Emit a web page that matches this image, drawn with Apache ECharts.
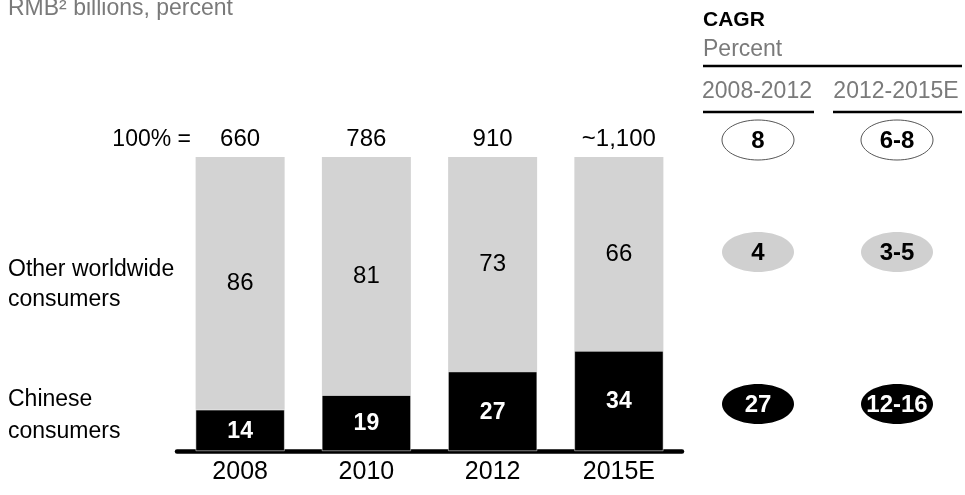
<!DOCTYPE html>
<html>
<head>
<meta charset="utf-8">
<script src="https://cdn.jsdelivr.net/npm/echarts@6/dist/echarts.min.js"></script>
<style>
  html, body { margin: 0; padding: 0; background: #fff; }
  #chart { width: 965px; height: 495px; }
</style>
</head>
<body>
<div id="chart"></div>
<script>
const years = ['2008', '2010', '2012', '2015E']
const chinese = [14, 19, 27, 34]
const others = [86, 81, 73, 66]
const totals = ['660', '786', '910', '~1,100']
const cagrPeriods = ['2008-2012', '2012-2015E']
const cagrTotal = ['8', '6-8']
const cagrOthers = ['4', '3-5']
const cagrChinese = ['27', '12-16']

const FONT = '"Liberation Sans", Arial, sans-serif'
const GRAY = '#d3d3d3'
const TXT_GRAY = '#7a7a7a'

const chart = echarts.init(document.getElementById('chart'))

// CAGR 椭圆：3 行 x 2 个时间段
const ovalColX = [758, 897]
const ovalRows = [
  { y: 140, vals: cagrTotal, fill: '#fff', stroke: '#555', color: '#000' },
  { y: 252, vals: cagrOthers, fill: '#d0d0d0', stroke: null, color: '#000' },
  { y: 404, vals: cagrChinese, fill: '#000', stroke: null, color: '#fff' },
]
const ovals = []
ovalRows.forEach(row => {
  row.vals.forEach((v, i) => {
    ovals.push({
      type: 'ellipse',
      shape: { cx: ovalColX[i], cy: row.y, rx: 36, ry: 20 },
      style: { fill: row.fill, stroke: row.stroke, lineWidth: row.stroke ? 1 : 0 },
    })
    ovals.push({
      type: 'text',
      x: ovalColX[i], y: row.y + 1,
      style: {
        text: v, fill: row.color, font: 'bold 24px ' + FONT,
        align: 'center', verticalAlign: 'middle',
      },
    })
  })
})

const txt = (text, x, y, opts = {}) => ({
  type: 'text', x, y,
  style: Object.assign({
    text, fill: '#000', font: '23px ' + FONT,
    align: 'left', verticalAlign: 'middle',
  }, opts),
})

chart.setOption({
  animation: false,
  grid: { left: 177, right: 283, top: 157, bottom: 44 },
  xAxis: {
    type: 'category',
    data: years,
    axisLine: { lineStyle: { color: '#000', width: 4.5 } },
    axisTick: { show: false },
    axisLabel: { color: '#000', fontSize: 25, fontFamily: FONT, margin: 9 },
  },
  yAxis: { type: 'value', min: 0, max: 100, show: false },
  series: [
    {
      type: 'bar', stack: 'a', data: chinese, barWidth: 89,
      itemStyle: { color: '#000', borderColor: '#fff', borderWidth: 0.5 },
      label: { show: true, position: 'inside', offset: [0, 1], color: '#fff', fontSize: 23, fontWeight: 'bold', fontFamily: FONT },
    },
    {
      type: 'bar', stack: 'a', data: others, barWidth: 89,
      itemStyle: { color: GRAY },
      label: { show: true, position: 'inside', color: '#000', fontSize: 24, fontFamily: FONT },
    },
    {
      // 顶部 100% 总量
      type: 'bar', stack: 'a', data: years.map(() => 0), barWidth: 89,
      itemStyle: { color: 'transparent' },
      label: {
        show: true, position: 'top', distance: 6,
        color: '#000', fontSize: 24, fontFamily: FONT,
        formatter: p => totals[p.dataIndex],
      },
    },
  ],
  graphic: [
    txt('RMB² billions, percent', 8, 9, { fill: TXT_GRAY }),
    txt('100% =', 191, 140, { align: 'right' }),
    txt('Other worldwide\nconsumers', 8, 285, { lineHeight: 30 }),
    txt('Chinese\nconsumers', 8, 416, { lineHeight: 32 }),
    txt('CAGR', 703, 20, { font: 'bold 21px ' + FONT }),
    txt('Percent', 703, 50, { fill: TXT_GRAY }),
    { type: 'line', shape: { x1: 703, y1: 66, x2: 962, y2: 66 }, style: { stroke: '#000', lineWidth: 2.5 } },
    txt(cagrPeriods[0], 757, 92, { fill: TXT_GRAY, align: 'center' }),
    txt(cagrPeriods[1], 896, 92, { fill: TXT_GRAY, align: 'center' }),
    { type: 'line', shape: { x1: 703, y1: 112, x2: 814, y2: 112 }, style: { stroke: '#000', lineWidth: 2.5 } },
    { type: 'line', shape: { x1: 833, y1: 112, x2: 962, y2: 112 }, style: { stroke: '#000', lineWidth: 2.5 } },
    ...ovals,
  ],
})
</script>
</body>
</html>
